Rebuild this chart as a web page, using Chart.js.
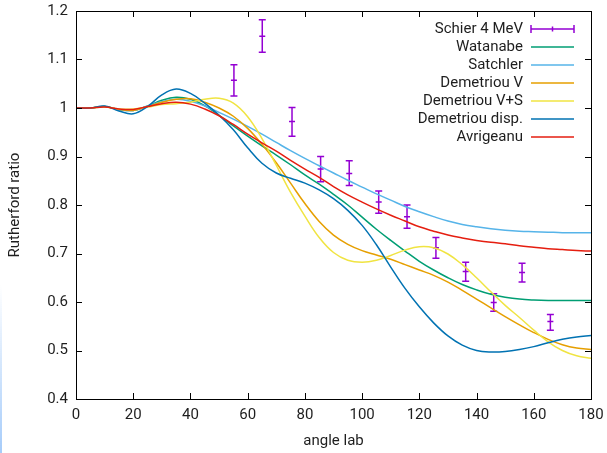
<!DOCTYPE html>
<html>
<head>
<meta charset="utf-8">
<title>Rutherford ratio</title>
<script src="https://cdn.jsdelivr.net/npm/chart.js@4.4.1/dist/chart.umd.min.js"></script>
<style>
  body { margin: 0; background: #fff; }
  #marco { position: relative; width: 607px; height: 453px; }
  #borde { position: absolute; left: 0; top: 285px; width: 2px; height: 168px;
           background: linear-gradient(to bottom, rgba(170,205,250,0), #a6ccfa); }
</style>
</head>
<body>
<div id="marco">
  <canvas id="graficoRatio" width="607" height="453"></canvas>
  <div id="borde"></div>
</div>
<script>
// === DATOS ===
const angulos = [0, 5, 10, 15, 20, 25, 30, 35, 40, 45, 50, 55, 60, 65, 70, 75, 80, 85, 90,
  95, 100, 105, 110, 115, 120, 125, 130, 135, 140, 145, 150, 155, 160, 165, 170, 175, 180];

const watanabe = [1.000, 1.000, 1.003, 0.997, 0.995, 1.004, 1.016, 1.022, 1.018, 1.005, 0.985,
  0.963, 0.942, 0.922, 0.903, 0.883, 0.862, 0.843, 0.822, 0.800, 0.775, 0.750, 0.727, 0.705,
  0.684, 0.666, 0.650, 0.636, 0.625, 0.616, 0.610, 0.606, 0.604, 0.603, 0.603, 0.603, 0.603];

const satchler = [1.000, 1.000, 1.003, 0.997, 0.995, 1.004, 1.013, 1.018, 1.014, 1.004, 0.991,
  0.977, 0.962, 0.946, 0.929, 0.912, 0.896, 0.881, 0.866, 0.851, 0.837, 0.823, 0.810, 0.797,
  0.786, 0.776, 0.767, 0.760, 0.755, 0.751, 0.748, 0.746, 0.745, 0.744, 0.743, 0.743, 0.743];

const demetriouV = [1.000, 1.000, 1.003, 0.997, 0.995, 1.003, 1.012, 1.018, 1.019, 1.012, 1.000,
  0.983, 0.958, 0.925, 0.887, 0.845, 0.803, 0.766, 0.738, 0.719, 0.706, 0.697, 0.688, 0.677,
  0.666, 0.655, 0.641, 0.624, 0.606, 0.588, 0.570, 0.553, 0.537, 0.523, 0.512, 0.505, 0.502];

const demetriouVS = [1.000, 1.000, 1.002, 0.998, 0.998, 1.002, 1.007, 1.009, 1.012, 1.018, 1.020,
  1.010, 0.982, 0.937, 0.882, 0.826, 0.777, 0.733, 0.702, 0.686, 0.682, 0.686, 0.696, 0.707,
  0.714, 0.712, 0.699, 0.677, 0.650, 0.621, 0.593, 0.568, 0.542, 0.518, 0.500, 0.489, 0.484];

const demetriouDisp = [1.000, 1.000, 1.004, 0.994, 0.988, 1.003, 1.027, 1.039, 1.030, 1.010, 0.985,
  0.955, 0.918, 0.886, 0.866, 0.855, 0.845, 0.831, 0.813, 0.789, 0.758, 0.718, 0.672, 0.628,
  0.590, 0.557, 0.530, 0.511, 0.500, 0.497, 0.498, 0.502, 0.508, 0.516, 0.523, 0.528, 0.531];

const avrigeanu = [1.000, 1.000, 1.002, 0.998, 0.997, 1.003, 1.009, 1.012, 1.008, 0.998, 0.984,
  0.966, 0.946, 0.928, 0.911, 0.892, 0.874, 0.857, 0.838, 0.821, 0.806, 0.792, 0.779, 0.767,
  0.755, 0.746, 0.738, 0.732, 0.727, 0.723, 0.720, 0.716, 0.713, 0.710, 0.708, 0.706, 0.705];

// medidas Schier 4 MeV con barras de error
const schierAngulo = [55.2, 65.1, 75.5, 85.5, 95.5, 105.8, 115.7, 125.8, 136.2, 146, 155.9, 165.8];
const schierValor  = [1.057, 1.148, 0.972, 0.874, 0.865, 0.806, 0.776, 0.712, 0.663, 0.599, 0.661, 0.560];
const schierMin    = [1.025, 1.115, 0.942, 0.848, 0.840, 0.783, 0.752, 0.690, 0.643, 0.581, 0.641, 0.542];
const schierMax    = [1.089, 1.182, 1.001, 0.900, 0.891, 0.829, 0.800, 0.733, 0.682, 0.617, 0.680, 0.574];

const ticksX = [0, 20, 40, 60, 80, 100, 120, 140, 160, 180];
const ticksY = [0.4, 0.5, 0.6, 0.7, 0.8, 0.9, 1.0, 1.1, 1.2];

const curvas = [
  { label: 'Watanabe', datos: watanabe, color: '#009e73' },
  { label: 'Satchler', datos: satchler, color: '#56b4e9' },
  { label: 'Demetriou V', datos: demetriouV, color: '#e69f00' },
  { label: 'Demetriou V+S', datos: demetriouVS, color: '#f0e442' },
  { label: 'Demetriou disp.', datos: demetriouDisp, color: '#0072b2' },
  { label: 'Avrigeanu', datos: avrigeanu, color: '#e51e10' }
];
const colorSchier = '#9400d3';
const fuente = 'Roboto, "DejaVu Sans", sans-serif';
const colorTexto = '#1e1e1e';

// === MARCO, MARCAS Y BARRAS DE ERROR ===
const pluginMarco = {
  id: 'marco',
  beforeDatasetsDraw(chart) {
    const { ctx, scales: { x, y } } = chart;
    ctx.save();
    ctx.strokeStyle = colorSchier;
    ctx.lineWidth = 1.5;
    schierAngulo.forEach((a, i) => {
      const px = x.getPixelForValue(a);
      const y0 = y.getPixelForValue(schierMin[i]);
      const y1 = y.getPixelForValue(schierMax[i]);
      const yc = y.getPixelForValue(schierValor[i]);
      ctx.beginPath();
      ctx.moveTo(px, y0); ctx.lineTo(px, y1);
      ctx.moveTo(px - 3.5, y0); ctx.lineTo(px + 3.5, y0);
      ctx.moveTo(px - 3.5, y1); ctx.lineTo(px + 3.5, y1);
      ctx.moveTo(px - 3, yc); ctx.lineTo(px + 3, yc);
      ctx.stroke();
    });
    ctx.restore();
  },
  afterDatasetsDraw(chart) {
    const { ctx, chartArea: a, scales: { x, y } } = chart;
    ctx.save();
    ctx.strokeStyle = '#000';
    ctx.lineWidth = 1;
    ctx.beginPath();
    ticksX.slice(1, -1).forEach(v => {
      const px = Math.round(x.getPixelForValue(v)) + 0.5;
      ctx.moveTo(px, a.bottom); ctx.lineTo(px, a.bottom - 6);
      ctx.moveTo(px, a.top); ctx.lineTo(px, a.top + 6);
    });
    ticksY.slice(1, -1).forEach(v => {
      const py = Math.round(y.getPixelForValue(v)) + 0.5;
      ctx.moveTo(a.left, py); ctx.lineTo(a.left + 6, py);
      ctx.moveTo(a.right, py); ctx.lineTo(a.right - 6, py);
    });
    ctx.stroke();
    ctx.strokeRect(Math.round(a.left) + 0.5, Math.round(a.top) + 0.5,
      Math.round(a.right - a.left), Math.round(a.bottom - a.top));

    // leyenda en la esquina superior derecha
    ctx.font = '15px ' + fuente;
    ctx.textAlign = 'right';
    ctx.textBaseline = 'middle';
    const xt = a.right - 68, x0 = a.right - 60, x1 = a.right - 17;
    let fila = a.top + 18;
    ctx.fillStyle = colorTexto;
    ctx.fillText('Schier 4 MeV', xt, fila);
    ctx.strokeStyle = colorSchier;
    ctx.lineWidth = 1.5;
    ctx.beginPath();
    ctx.moveTo(x0, fila); ctx.lineTo(x1, fila);
    ctx.moveTo(x0, fila - 4); ctx.lineTo(x0, fila + 4);
    ctx.moveTo(x1, fila - 4); ctx.lineTo(x1, fila + 4);
    ctx.moveTo((x0 + x1) / 2, fila - 2.5); ctx.lineTo((x0 + x1) / 2, fila + 2.5);
    ctx.stroke();
    curvas.forEach(c => {
      fila += 18;
      ctx.fillStyle = colorTexto;
      ctx.fillText(c.label, xt, fila);
      ctx.strokeStyle = c.color;
      ctx.beginPath();
      ctx.moveTo(x0, fila); ctx.lineTo(x1, fila);
      ctx.stroke();
    });
    ctx.restore();
  }
};

// === GRÁFICO ===
const datasets = curvas.map((c, i) => ({
  label: c.label,
  data: angulos.map((a, j) => ({ x: a, y: c.datos[j] })),
  borderColor: c.color,
  borderWidth: 1.5,
  pointRadius: 0,
  showLine: true,
  tension: 0.4,
  order: -i
}));

const ctx = document.getElementById('graficoRatio').getContext('2d');
new Chart(ctx, {
  type: 'scatter',
  data: { datasets },
  options: {
    responsive: false,
    animation: false,
    devicePixelRatio: 1,
    layout: { padding: { top: 11, right: 16, left: 0, bottom: 0 } },
    plugins: { legend: { display: false }, tooltip: { enabled: false } },
    scales: {
      x: {
        type: 'linear', min: 0, max: 180,
        afterBuildTicks: s => { s.ticks = ticksX.map(v => ({ value: v })); },
        afterFit: s => { s.height = 54; s.paddingLeft = 0; s.paddingRight = 0; },
        grid: { display: false, drawTicks: false },
        border: { display: false },
        ticks: { padding: 7, color: colorTexto, font: { family: fuente, size: 15 }, maxRotation: 0 },
        title: { display: true, text: 'angle lab', color: colorTexto,
          font: { family: fuente, size: 15 }, padding: { top: 4, bottom: 3 } }
      },
      y: {
        type: 'linear', min: 0.4, max: 1.2,
        afterBuildTicks: s => { s.ticks = ticksY.map(v => ({ value: v })); },
        afterFit: s => { s.width = 76; s.paddingTop = 0; s.paddingBottom = 0; },
        grid: { display: false, drawTicks: false },
        border: { display: false },
        ticks: { padding: 8, color: colorTexto, font: { family: fuente, size: 15 },
          callback: v => String(+v.toFixed(1)) },
        title: { display: true, text: 'Rutherford ratio', color: colorTexto,
          font: { family: fuente, size: 15 }, padding: { top: 6, bottom: 4 } }
      }
    }
  },
  plugins: [pluginMarco]
});
</script>
</body>
</html>
